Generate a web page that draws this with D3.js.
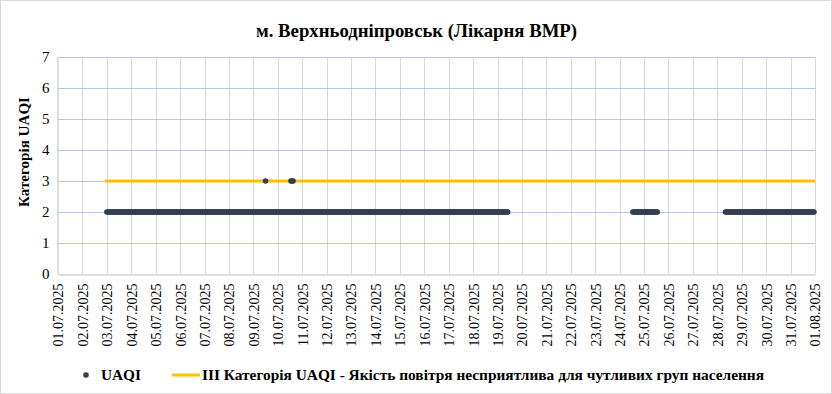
<!DOCTYPE html>
<html>
<head>
<meta charset="utf-8">
<script src="https://cdn.jsdelivr.net/npm/d3@7"></script>
<style>
  body { margin: 0; background: #fff; }
</style>
</head>
<body>
<div id="chart"></div>
<script>
// Data: runs of hourly UAQI category readings.
const runStarts = ["2025-07-03T00:00", "2025-07-09T12:00", "2025-07-10T13:00", "2025-07-24T13:00", "2025-07-28T08:00"];
const runEnds   = ["2025-07-19T10:00", "2025-07-09T12:00", "2025-07-10T15:00", "2025-07-25T13:00", "2025-07-31T23:00"];
const runValues = [2, 3, 3, 2, 2];

// threshold line: III category
const thresholdStart = "2025-07-03T00:00";
const thresholdEnd = "2025-08-01T00:00";
const thresholdValue = 3;

const yTicks = [0, 1, 2, 3, 4, 5, 6, 7];
const xStart = "2025-07-01T00:00";
const xEnd = "2025-08-01T00:00";

const titleText = "м. Верхньодніпровськ (Лікарня ВМР)";
const yLabel = "Категорія UAQI";
const legendLabels = ["UAQI", "ІІІ Категорія UAQI - Якість повітря несприятлива для чутливих груп населення"];

const FONT = "'Liberation Serif', 'Times New Roman', serif";

// Setup sizes.
const W = 832, H = 394;
const margin = {top: 57, left: 58, bottom: 120, right: 17};

const parse = d3.timeParse("%Y-%m-%dT%H:%M");
const fmt = d3.timeFormat("%d.%m.%Y");

// expand each run into hourly points
let points = [];
runStarts.forEach((s, i) => {
  d3.timeHour.range(parse(s), d3.timeHour.offset(parse(runEnds[i]), 1))
    .forEach(t => points.push({t: t, v: runValues[i]}));
});

const svg = d3.select("#chart").append("svg")
  .attr("width", W).attr("height", H)
  .style("font-family", FONT);

svg.append("rect")
  .attr("x", 0.5).attr("y", 0.5)
  .attr("width", W - 1).attr("height", H - 1)
  .attr("fill", "#fff").attr("stroke", "#d9d9d9");

const xScale = d3.scaleTime()
  .domain([parse(xStart), parse(xEnd)])
  .range([margin.left, W - margin.right]);

const yScale = d3.scaleLinear()
  .domain([0, 7])
  .range([H - margin.bottom, margin.top]);

// Gridlines.
const days = d3.timeDay.range(parse(xStart), d3.timeDay.offset(parse(xEnd), 1));
svg.append("g").selectAll("line")
  .data(days.slice(1))
  .enter().append("line")
  .attr("x1", d => Math.round(xScale(d)) + 0.5)
  .attr("x2", d => Math.round(xScale(d)) + 0.5)
  .attr("y1", yScale(7)).attr("y2", yScale(0))
  .attr("stroke", "#d9d9d9");

svg.append("g").selectAll("line")
  .data(yTicks.slice(1))
  .enter().append("line")
  .attr("x1", margin.left).attr("x2", W - margin.right)
  .attr("y1", d => Math.round(yScale(d)) + 0.5)
  .attr("y2", d => Math.round(yScale(d)) + 0.5)
  .attr("stroke", "#b4c7e7");

// Axes.
const yAxis = svg.append("g")
  .attr("transform", `translate(${margin.left - 0.5},0)`)
  .call(d3.axisLeft(yScale).tickValues(yTicks).tickFormat(d3.format("d")).tickSize(0).tickPadding(8));
yAxis.attr("font-family", null);
yAxis.select(".domain").attr("stroke", "#bfbfbf");
yAxis.selectAll("text")
  .style("font-family", FONT)
  .attr("font-size", 15)
  .attr("fill", "#000");

const xAxis = svg.append("g")
  .attr("transform", `translate(0,${Math.round(yScale(0)) + 0.5})`)
  .call(d3.axisBottom(xScale).tickValues(days).tickFormat(fmt).tickSize(0));
xAxis.attr("font-family", null);
xAxis.select(".domain").attr("stroke", "#bfbfbf");
xAxis.selectAll("text")
  .style("font-family", FONT)
  .attr("font-size", 14)
  .attr("fill", "#000")
  .attr("text-anchor", "end")
  .attr("transform", "rotate(-90)")
  .attr("x", -9)
  .attr("y", 0)
  .attr("dy", "0.35em");

// Threshold line.
svg.append("line")
  .attr("x1", xScale(parse(thresholdStart)) - 2)
  .attr("x2", xScale(parse(thresholdEnd)))
  .attr("y1", yScale(thresholdValue))
  .attr("y2", yScale(thresholdValue))
  .attr("stroke", "#ffc000")
  .attr("stroke-width", 3);

// UAQI points.
svg.append("g").selectAll("circle")
  .data(points)
  .enter().append("circle")
  .attr("cx", d => xScale(d.t))
  .attr("cy", d => yScale(d.v))
  .attr("r", 2.8)
  .attr("fill", "#323f4f");

// Title.
svg.append("text")
  .attr("x", 256).attr("y", 37)
  .attr("font-size", 18)
  .attr("font-weight", "bold")
  .attr("textLength", 321)
  .attr("lengthAdjust", "spacingAndGlyphs")
  .style("font-family", FONT)
  .text(titleText);

// Y label.
svg.append("text")
  .attr("transform", "translate(29,207) rotate(-90)")
  .attr("font-size", 14)
  .attr("font-weight", "bold")
  .attr("textLength", 110)
  .attr("lengthAdjust", "spacingAndGlyphs")
  .style("font-family", FONT)
  .text(yLabel);

// Legend.
const legend = svg.append("g").attr("transform", "translate(0,375)");
legend.append("circle").attr("cx", 86).attr("cy", 0).attr("r", 2.8).attr("fill", "#323f4f");
legend.append("text").attr("x", 101).attr("y", 5)
  .attr("font-size", 15).attr("font-weight", "bold")
  .attr("textLength", 40).attr("lengthAdjust", "spacingAndGlyphs")
  .style("font-family", FONT)
  .text(legendLabels[0]);
legend.append("line").attr("x1", 172).attr("x2", 200).attr("y1", 0).attr("y2", 0)
  .attr("stroke", "#ffc000").attr("stroke-width", 3);
legend.append("text").attr("x", 202).attr("y", 5)
  .attr("font-size", 15).attr("font-weight", "bold")
  .attr("textLength", 562).attr("lengthAdjust", "spacingAndGlyphs")
  .style("font-family", FONT)
  .text(legendLabels[1]);
</script>
</body>
</html>
